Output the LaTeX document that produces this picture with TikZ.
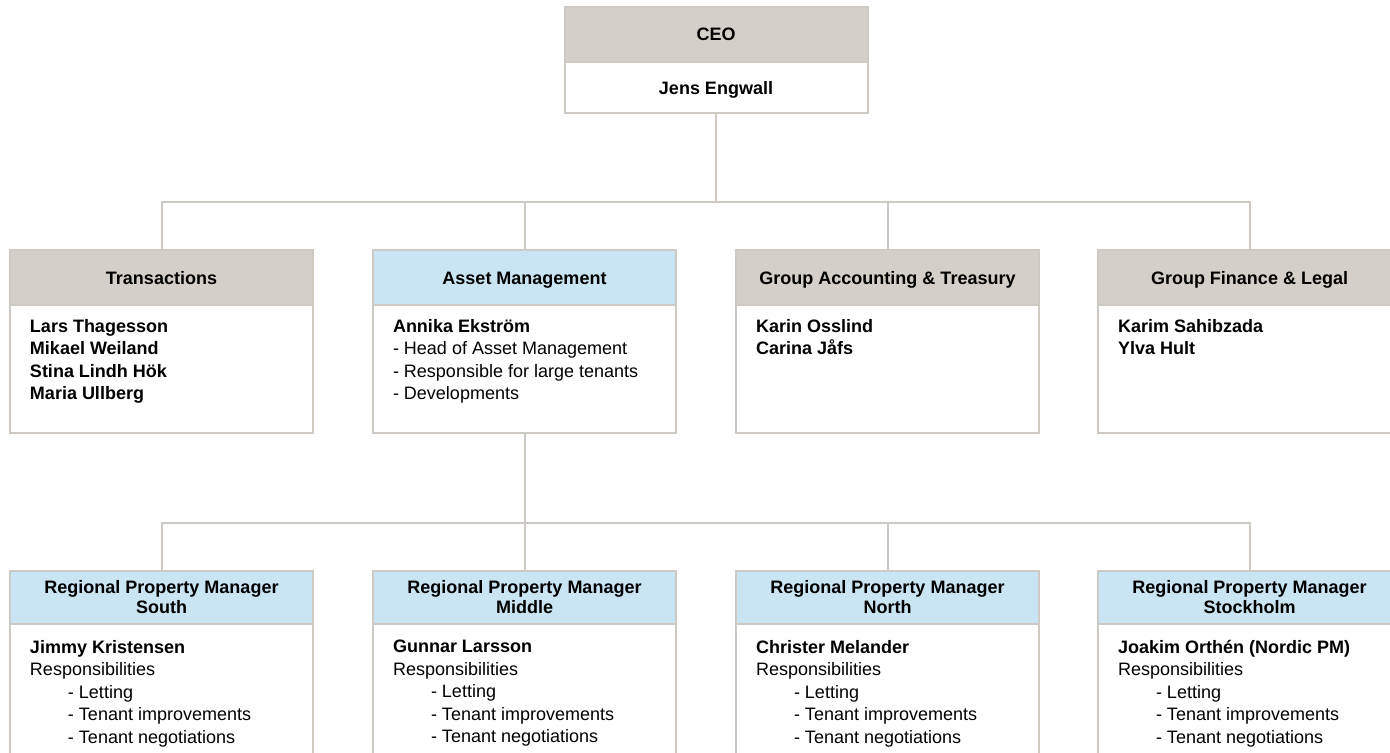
\documentclass[tikz,border=0pt]{standalone}
\usepackage{fontspec}
\setmainfont{Liberation Sans}
\usetikzlibrary{positioning}

\definecolor{headgrey}{RGB}{212,207,200}
\definecolor{headblue}{RGB}{201,228,242}
\definecolor{framegrey}{RGB}{206,201,194}

\tikzstyle{head} = [rectangle, draw=framegrey, line width=2bp, minimum width=303bp, minimum height=55bp, inner sep=0pt, outer sep=0pt, align=center, anchor=north, text height=13bp, text depth=0bp, font=\fontsize{18bp}{20bp}\selectfont\bfseries]
\tikzstyle{twoline} = [text height=, text depth=, minimum height=53bp]
\tikzstyle{conn} = [draw=framegrey, line width=2bp]
\tikzset{body/.style={rectangle, draw=framegrey, fill=white, line width=2bp, inner xsep=20bp, inner ysep=14bp, outer sep=0pt, font=\fontsize{18bp}{22.5bp}\selectfont,
    execute at begin node={\begin{minipage}[t][#1][t]{263bp}},
    execute at end node={\end{minipage}}}}

\newcommand{\duty}[1]{\hspace*{38bp}- #1}

\begin{document}
\begin{tikzpicture}[x=1bp, y=-1bp]
    \useasboundingbox (0,0) rectangle (1390,752);
    \tikzset{node distance = 0pt}
    % CEO on top
    \node (ceo) at (716,7) [head, fill=headgrey] {CEO};
    \node (ceoName) [below=of ceo, head, minimum height=51bp, fill=white] {Jens Engwall};

    % second level
    \node (trans) at (161.5,250) [head, fill=headgrey] {Transactions};
    \node (transBody) [below=of trans, body=100bp] {\bfseries Lars Thagesson\\ Mikael Weiland\\ Stina Lindh Hök\\ Maria Ullberg};
    \node (asset) at (524.5,250) [head, fill=headblue] {Asset Management};
    \node (assetBody) [below=of asset, body=100bp] {\textbf{Annika Ekström}\\ - Head of Asset Management\\ - Responsible for large tenants\\ - Developments};
    \node (accounting) at (887.5,250) [head, fill=headgrey] {Group Accounting \& Treasury};
    \node (accountingBody) [below=of accounting, body=100bp] {\bfseries Karin Osslind\\ Carina Jåfs};
    \node (finance) at (1249.5,250) [head, fill=headgrey] {Group Finance \& Legal};
    \node (financeBody) [below=of finance, body=100bp] {\bfseries Karim Sahibzada\\ Ylva Hult};

    % regional property managers
    \node (rpmSouth) at (161.5,571) [head, twoline, fill=headblue] {Regional Property Manager\\ South};
    \node (rpmSouthBody) [below=of rpmSouth, body=144bp, inner ysep=16bp] {\textbf{Jimmy Kristensen}\\ Responsibilities\\ \duty{Letting}\\ \duty{Tenant improvements}\\ \duty{Tenant negotiations}};
    \node (rpmMiddle) at (524.5,571) [head, twoline, fill=headblue] {Regional Property Manager\\ Middle};
    \node (rpmMiddleBody) [below=of rpmMiddle, body=144bp, inner ysep=16bp] {\textbf{Gunnar Larsson}\\ Responsibilities\\ \duty{Letting}\\ \duty{Tenant improvements}\\ \duty{Tenant negotiations}};
    \node (rpmNorth) at (887.5,571) [head, twoline, fill=headblue] {Regional Property Manager\\ North};
    \node (rpmNorthBody) [below=of rpmNorth, body=144bp, inner ysep=16bp] {\textbf{Christer Melander}\\ Responsibilities\\ \duty{Letting}\\ \duty{Tenant improvements}\\ \duty{Tenant negotiations}};
    \node (rpmStockholm) at (1249.5,571) [head, twoline, fill=headblue] {Regional Property Manager\\ Stockholm};
    \node (rpmStockholmBody) [below=of rpmStockholm, body=144bp, inner ysep=16bp] {\textbf{Joakim Orthén (Nordic PM)}\\ Responsibilities\\ \duty{Letting}\\ \duty{Tenant improvements}\\ \duty{Tenant negotiations}};

    % reporting lines
    \draw[conn] (ceoName.south) -- ++(0,89);
    \draw[conn] (trans.north) -- ++(0,-48) -| (finance.north);
    \draw[conn] (asset.north) -- ++(0,-48);
    \draw[conn] (accounting.north) -- ++(0,-48);
    \draw[conn] (assetBody.south) -- ++(0,90);
    \draw[conn] (rpmSouth.north) -- ++(0,-48) -| (rpmStockholm.north);
    \draw[conn] (rpmMiddle.north) -- ++(0,-48);
    \draw[conn] (rpmNorth.north) -- ++(0,-48);
\end{tikzpicture}
\end{document}
